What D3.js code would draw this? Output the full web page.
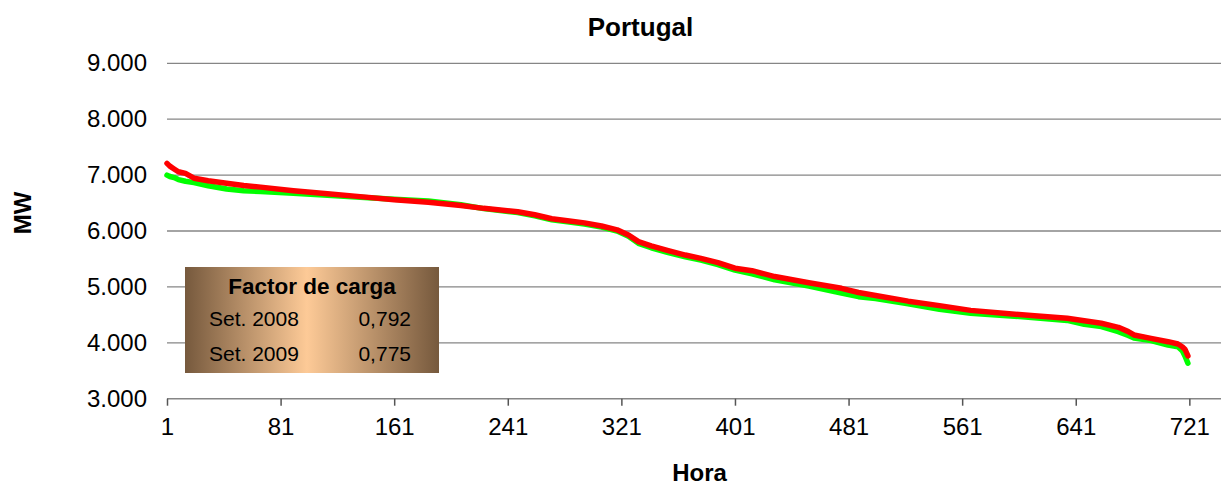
<!DOCTYPE html>
<html>
<head>
<meta charset="utf-8">
<script src="https://cdn.jsdelivr.net/npm/d3@7"></script>
<style>
  body { margin: 0; background: #fff; }
  text { font-family: "Liberation Sans", Arial, sans-serif; fill: #000; }
</style>
</head>
<body>
<svg id="chart" width="1221" height="486"></svg>
<script>
// curva de carga ordenada - Portugal, Setembro
var horas = [1, 3, 6, 9, 14, 20, 30, 43, 55, 67, 90, 114, 137, 161, 185, 208, 224, 248, 260, 272,
             283, 295, 307, 318, 326, 333, 342, 354, 366, 377, 389, 401, 413, 429, 453, 476, 488, 500,
             523, 545, 567, 590, 612, 635, 647, 659, 671, 678, 682, 694, 706, 713, 716, 718, 720];

var set2008 = [7210, 7160, 7110, 7060, 7030, 6945, 6900, 6855, 6815, 6785, 6720, 6665, 6615, 6560, 6513, 6455, 6405, 6345, 6290, 6220,
               6185, 6145, 6090, 6020, 5930, 5810, 5735, 5650, 5570, 5510, 5435, 5335, 5290, 5185, 5075, 4975, 4900, 4845,
               4745, 4665, 4580, 4530, 4482, 4438, 4395, 4350, 4277, 4200, 4140, 4080, 4020, 3978, 3930, 3880, 3765];

var set2009 = [7000, 6975, 6955, 6920, 6890, 6865, 6810, 6750, 6720, 6705, 6675, 6640, 6605, 6568, 6535, 6470, 6400, 6330, 6270, 6200,
               6165, 6125, 6070, 6000, 5905, 5780, 5700, 5615, 5540, 5480, 5400, 5300, 5235, 5125, 5016, 4890, 4825, 4790,
               4700, 4600, 4530, 4490, 4450, 4400, 4330, 4290, 4200, 4130, 4085, 4040, 3960, 3930, 3860, 3760, 3635];

var xTicks = [1, 81, 161, 241, 321, 401, 481, 561, 641, 721];
var yTicks = [3000, 4000, 5000, 6000, 7000, 8000, 9000];

var factorLabels = ["Set. 2008", "Set. 2009"];
var factorValues = ["0,792", "0,775"];

var svg = d3.select("#chart");

var x = d3.scaleLinear().domain([1, 744]).range([167, 1222]);
var y = d3.scaleLinear().domain([3000, 9000]).range([398.7, 63.3]);

var pt = d3.formatLocale({decimal: ",", thousands: ".", grouping: [3], currency: ["", " €"]});
var fmt = pt.format(",.0f");

// grelha horizontal
svg.append("g")
  .selectAll("line")
  .data(yTicks.filter(function(d) { return d > 3000; }))
  .join("line")
  .attr("x1", x(1)).attr("x2", 1221)
  .attr("y1", function(d) { return y(d); })
  .attr("y2", function(d) { return y(d); })
  .attr("stroke", "#868686")
  .attr("stroke-width", 1.3);

// eixo y (so etiquetas)
var yAxis = svg.append("g")
  .attr("transform", "translate(" + x(1) + ",0)")
  .call(d3.axisLeft(y).tickValues(yTicks).tickFormat(fmt).tickSize(0).tickPadding(20));
yAxis.select(".domain").remove();
yAxis.selectAll("text")
  .style("font-size", "24px")
  .style("font-family", "Liberation Sans, Arial, sans-serif");

// eixo x
var xAxis = svg.append("g")
  .attr("transform", "translate(0," + y(3000) + ")")
  .call(d3.axisBottom(x).tickValues(xTicks).tickFormat(d3.format("d")).tickSize(7).tickPadding(12).tickSizeOuter(0));
xAxis.select(".domain").attr("stroke", "#868686").attr("stroke-width", 1.5)
  .attr("d", "M" + x(1) + ",0H1221");
xAxis.selectAll(".tick line").attr("stroke", "#555").attr("stroke-width", 1.5);
xAxis.selectAll("text")
  .style("font-size", "24px")
  .style("font-family", "Liberation Sans, Arial, sans-serif");

// linhas
var line = d3.line()
  .x(function(d) { return x(d[0]); })
  .y(function(d) { return y(d[1]); });

svg.append("path")
  .datum(d3.zip(horas, set2009))
  .attr("d", line)
  .attr("fill", "none")
  .attr("stroke", "#00ff00")
  .attr("stroke-width", 5.5)
  .attr("stroke-linejoin", "round")
  .attr("stroke-linecap", "round");

svg.append("path")
  .datum(d3.zip(horas, set2008))
  .attr("d", line)
  .attr("fill", "none")
  .attr("stroke", "#ff0000")
  .attr("stroke-width", 5.5)
  .attr("stroke-linejoin", "round")
  .attr("stroke-linecap", "round");

// titulos
svg.append("text")
  .attr("x", 640.5).attr("y", 36)
  .attr("text-anchor", "middle")
  .style("font-size", "26px").style("font-weight", "bold")
  .text("Portugal");

svg.append("text")
  .attr("x", 699.5).attr("y", 481)
  .attr("text-anchor", "middle")
  .style("font-size", "24px").style("font-weight", "bold")
  .text("Hora");

svg.append("text")
  .attr("transform", "translate(31,213) rotate(-90)")
  .attr("text-anchor", "middle")
  .style("font-size", "24px").style("font-weight", "bold")
  .text("MW");

// caixa factor de carga
var defs = svg.append("defs");
var grad = defs.append("linearGradient").attr("id", "bronze")
  .attr("x1", "0%").attr("x2", "100%").attr("y1", "0%").attr("y2", "0%");
grad.append("stop").attr("offset", "0%").attr("stop-color", "#76593d");
grad.append("stop").attr("offset", "48%").attr("stop-color", "#fdca97");
grad.append("stop").attr("offset", "100%").attr("stop-color", "#76593d");

var box = svg.append("g").attr("transform", "translate(185,267)");
box.append("rect")
  .attr("width", 254).attr("height", 106)
  .attr("fill", "url(#bronze)");
box.append("text")
  .attr("x", 127).attr("y", 26.5)
  .attr("text-anchor", "middle")
  .style("font-size", "22.5px").style("font-weight", "bold")
  .text("Factor de carga");

box.selectAll("text.lbl")
  .data(factorLabels)
  .join("text")
  .attr("class", "lbl")
  .attr("x", 24)
  .attr("y", function(d, i) { return 59 + i * 34.7; })
  .style("font-size", "21px")
  .text(function(d) { return d; });

box.selectAll("text.val")
  .data(factorValues)
  .join("text")
  .attr("class", "val")
  .attr("x", 226)
  .attr("y", function(d, i) { return 59 + i * 34.7; })
  .attr("text-anchor", "end")
  .style("font-size", "21px")
  .text(function(d) { return d; });
</script>
</body>
</html>
